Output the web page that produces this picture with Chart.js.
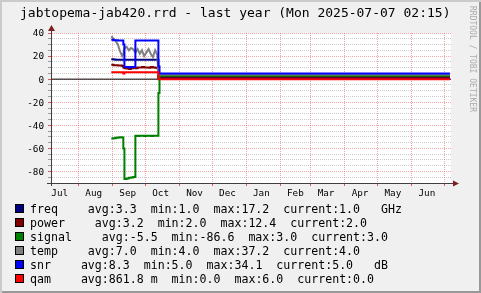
<!DOCTYPE html>
<html>
<head>
<meta charset="utf-8">
<script src="https://cdn.jsdelivr.net/npm/chart.js@4.4.1/dist/chart.umd.min.js"></script>
<style>
  body { margin: 0; }
  #wrap {
    position: relative; width: 481px; height: 293px; background: #f0f0f0; overflow: hidden;
    box-shadow: inset 2px 2px 0 #cbcbcb, inset -2px -2px 0 #999999;
    font-family: "DejaVu Sans Mono", monospace; color: #000;
  }
  #box { position: absolute; left: 0; top: 0; width: 481px; height: 293px; }
  .title { position: absolute; left: 20px; top: 5px; font-size: 13px; white-space: pre; }
  .mark { position: absolute; left: 468px; top: 6px; font-size: 8px; color: #aaaaaa; writing-mode: vertical-rl; white-space: pre; }
  .row { position: absolute; left: 30px; font-size: 11.6px; line-height: 14px; white-space: pre; }
  .sw { position: absolute; left: 15px; width: 9px; height: 9px; box-sizing: border-box; border: 1px solid #000; }
</style>
</head>
<body>
<div id="wrap">
  <div id="box"><canvas id="rrd"></canvas></div>
  <div class="title">jabtopema-jab420.rrd - last year (Mon 2025-07-07 02:15)</div>
  <div class="mark">RRDTOOL / TOBI OETIKER</div>
  <div id="legend"></div>
</div>
<script>
// x values are days since Mon 2024-07-07 02:15
const days   = [55, 57, 59, 61, 63, 65, 66, 67, 69, 71, 73, 75, 77, 79, 81, 83, 85, 87, 89, 91, 93, 95, 97, 98, 99, 364]
const freq   = [17.2, 17.0, 16.9, 16.8, 16.8, 16.8, 16.8, 16.8, 16.8, 16.8, 16.8, 16.8, 16.8, 16.8, 16.8, 16.8, 16.8, 16.8, 16.8, 16.8, 16.8, 16.8, 16.8, 1.0, 1.0, 1.0]
const power  = [12.4, 12.0, 12.0, 11.8, 11.8, 11.5, 10.0, 9.5, 9.2, 8.8, 9.5, 9.8, 9.5, 10.2, 10.0, 10.5, 10.0, 10.2, 9.8, 10.5, 10.2, 9.8, 9.5, 2.0, 2.0, 2.0]
const signal = [-51.5, -51.2, -50.8, -50.5, -50.3, -50.5, -60.0, -86.6, -86.0, -85.5, -85.2, -84.8, -49.0, -49.2, -49.0, -49.0, -49.3, -49.0, -49.0, -49.2, -49.0, -49.0, -49.0, -12.0, 3.0, 3.0]
const temp   = [37.2, 35.0, 33.0, 30.0, 24.0, 20.0, 22.0, 27.0, 28.0, 25.0, 27.0, 26.0, 23.0, 26.0, 22.0, 25.0, 20.0, 23.0, 26.0, 22.0, 19.0, 25.0, 21.0, 4.0, 4.0, 4.0]
const snr    = [34.1, 33.8, 33.8, 33.5, 33.5, 33.5, 30.0, 10.5, 10.5, 10.2, 10.5, 10.5, 33.5, 33.5, 33.5, 33.5, 33.5, 33.5, 33.5, 33.5, 33.5, 33.5, 33.5, 11.0, 5.0, 5.0]
const qam    = [6.0, 6.0, 6.0, 6.0, 6.0, 6.0, 5.0, 6.0, 6.0, 6.0, 6.0, 6.0, 6.0, 6.0, 6.0, 6.0, 6.0, 6.0, 6.0, 6.0, 6.0, 6.0, 6.0, 0.0, 0.0, 0.0]

const monthStarts = [25, 56, 86, 117, 147, 178, 209, 237, 268, 298, 329, 359]
const monthMids   = [8, 39, 70, 100, 131, 161, 192, 223, 251, 282, 312, 343]
const monthNames  = ['Jul', 'Aug', 'Sep', 'Oct', 'Nov', 'Dec', 'Jan', 'Feb', 'Mar', 'Apr', 'May', 'Jun']

const names  = ['freq', 'power', 'signal', 'temp', 'snr', 'qam']
const colors = ['#000080', '#800000', '#008000', '#808080', '#0000ff', '#ff0000']
const avgTxt = ['3.3', '3.2', '-5.5', '7.0', '8.3', '861.8 m']
const minTxt = ['1.0', '2.0', '-86.6', '4.0', '5.0', '0.0']
const maxTxt = ['17.2', '12.4', '3.0', '37.2', '34.1', '6.0']
const curTxt = ['1.0', '2.0', '3.0', '4.0', '5.0', '0.0']
const units  = ['GHz', '', '', '', 'dB', '']

const series = [freq, power, signal, temp, snr, qam]

// legend
const legend = document.getElementById('legend')
names.forEach((n, i) => {
    const top = 202 + i * 14
    const sw = document.createElement('div')
    sw.className = 'sw'
    sw.style.top = (top + 2) + 'px'
    sw.style.background = colors[i]
    legend.appendChild(sw)
    const row = document.createElement('div')
    row.className = 'row'
    row.style.top = top + 'px'
    let txt = 'avg:' + avgTxt[i] + '  min:' + minTxt[i] + '  max:' + maxTxt[i] + '  current:' + curTxt[i]
    if (units[i]) txt += '   ' + units[i]
    row.innerHTML = '<span>' + n + '    </span><span style="margin-left:2px">' + txt + '</span>'
    legend.appendChild(row)
})

const rrdDecor = {
    id: 'rrdDecor',
    beforeDraw(chart) {
        const { ctx, chartArea: a } = chart
        ctx.save()
        ctx.fillStyle = '#ffffff'
        ctx.fillRect(a.left, a.top, a.right - a.left, a.bottom - a.top)
        ctx.restore()
    },
    afterDraw(chart) {
        const { ctx, chartArea: a } = chart
        const bx = Math.round(a.left) + 0.5
        const by = Math.round(a.bottom) + 0.5
        ctx.save()
        ctx.strokeStyle = '#404040'
        ctx.lineWidth = 1
        ctx.beginPath()
        ctx.moveTo(a.left - 4, by); ctx.lineTo(a.right + 3, by)
        ctx.moveTo(bx, a.bottom + 3); ctx.lineTo(bx, a.top - 3)
        ctx.stroke()
        ctx.fillStyle = '#7f1f1f'
        ctx.beginPath()
        ctx.moveTo(a.right + 2, by - 3); ctx.lineTo(a.right + 8, by); ctx.lineTo(a.right + 2, by + 3)
        ctx.closePath(); ctx.fill()
        ctx.beginPath()
        ctx.moveTo(bx - 3.5, a.top - 2); ctx.lineTo(bx, a.top - 8); ctx.lineTo(bx + 3.5, a.top - 2)
        ctx.closePath(); ctx.fill()
        ctx.restore()
    }
}

Chart.defaults.font.family = '"DejaVu Sans Mono", monospace'
Chart.defaults.color = '#000'

const datasets = names.map((n, i) => ({
    label: n,
    data: days.map((d, k) => ({ x: d, y: series[i][k] })),
    borderColor: colors[i],
    borderWidth: 2,
    pointRadius: 0,
    // temp wiggles, so draw it as a plain line
    stepped: n === 'temp' ? false : 'before',
    order: 5 - i
}))
datasets.push({
    label: 'zero',
    data: [{ x: 0, y: 0 }, { x: 365, y: 0 }],
    borderColor: '#000000',
    borderWidth: 1,
    pointRadius: 0,
    order: 6
})

const isMajorY = v => v % 20 === 0
const ctx = document.getElementById('rrd').getContext('2d')
new Chart(ctx, {
    type: 'line',
    data: { datasets },
    plugins: [rrdDecor],
    options: {
        responsive: true,
        maintainAspectRatio: false,
        animation: false,
        devicePixelRatio: 1,
        layout: { padding: { left: 0, top: 33, right: 30, bottom: 0 } },
        plugins: { legend: { display: false }, tooltip: { enabled: false } },
        scales: {
            x: {
                type: 'linear',
                min: 0,
                max: 365,
                afterFit: s => { s.height = 110 },
                afterBuildTicks: s => {
                    s.ticks = monthStarts.concat(monthMids).sort((a, b) => a - b).map(v => ({ value: v }))
                },
                ticks: {
                    autoSkip: false,
                    maxRotation: 0,
                    padding: 2,
                    font: { size: 9.3 },
                    callback: v => {
                        const i = monthMids.indexOf(v)
                        return i >= 0 ? monthNames[i] : ''
                    }
                },
                grid: {
                    color: c => monthStarts.includes(c.tick && c.tick.value) ? 'rgba(235,80,80,0.5)' : 'transparent',
                    tickColor: c => monthStarts.includes(c.tick && c.tick.value) ? 'rgba(220,50,50,0.8)' : 'transparent',
                    tickLength: 3
                },
                border: { color: '#404040', dash: [1, 1] }
            },
            y: {
                min: -90,
                max: 40,
                afterFit: s => { s.width = 51 },
                ticks: {
                    stepSize: 5,
                    autoSkip: false,
                    padding: 4,
                    labelOffset: 1,
                    font: { size: 9.3 },
                    callback: v => isMajorY(v) ? String(v) : ''
                },
                grid: {
                    color: c => isMajorY(c.tick ? c.tick.value : 1) ? 'rgba(235,80,80,0.5)' : 'rgba(140,140,140,0.45)',
                    tickColor: c => isMajorY(c.tick ? c.tick.value : 1) ? 'rgba(220,50,50,0.8)' : 'rgba(120,120,120,0.7)',
                    tickLength: 3
                },
                border: { color: '#404040', dash: [1, 1] }
            }
        }
    }
})
</script>
</body>
</html>
